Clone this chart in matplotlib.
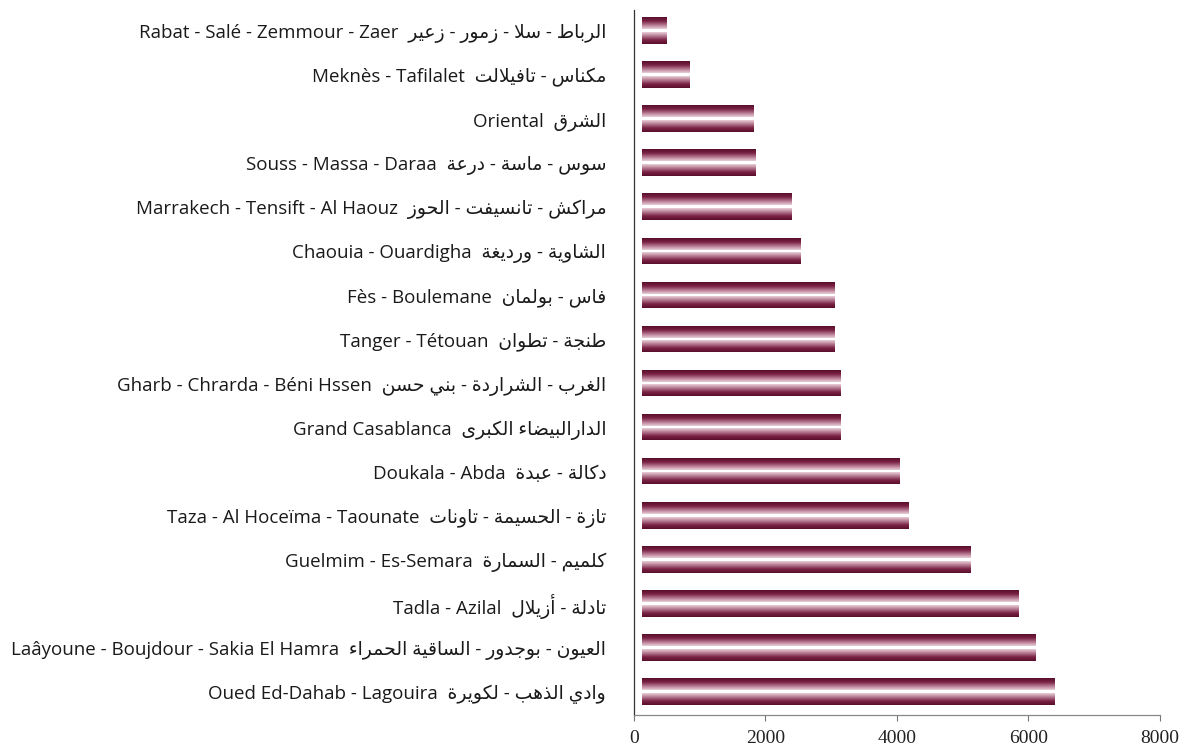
import numpy as np
import matplotlib
matplotlib.use("Agg")
import matplotlib.pyplot as plt
from matplotlib.colors import LinearSegmentedColormap

# regions (top to bottom), latin + arabic names
regions_lat = [
    "Rabat - Salé - Zemmour - Zaer",
    "Meknès - Tafilalet",
    "Oriental",
    "Souss - Massa - Daraa",
    "Marrakech - Tensift - Al Haouz",
    "Chaouia - Ouardigha",
    "Fès - Boulemane",
    "Tanger - Tétouan",
    "Gharb - Chrarda - Béni Hssen",
    "Grand Casablanca",
    "Doukala - Abda",
    "Taza - Al Hoceïma - Taounate",
    "Guelmim - Es-Semara",
    "Tadla - Azilal",
    "Laâyoune - Boujdour - Sakia El Hamra",
    "Oued Ed-Dahab - Lagouira",
]
regions_ar = [
    "الرباط - سلا - زمور - زعير",
    "مكناس - تافيلالت",
    "الشرق",
    "سوس - ماسة - درعة",
    "مراكش - تانسيفت - الحوز",
    "الشاوية - ورديغة",
    "فاس - بولمان",
    "طنجة - تطوان",
    "الغرب - الشراردة - بني حسن",
    "الدارالبيضاء الكبرى",
    "دكالة - عبدة",
    "تازة - الحسيمة - تاونات",
    "كلميم - السمارة",
    "تادلة - أزيلال",
    "العيون - بوجدور - الساقية الحمراء",
    "وادي الذهب - لكويرة",
]
series_a = [510, 850, 1820, 1860, 2410, 2540, 3060, 3060, 3150, 3150, 4050, 4180, 5120, 5850, 6120, 6410]
series_b = [510, 850, 1820, 1860, 2410, 2540, 3060, 3060, 3150, 3150, 4050, 4180, 5120, 5850, 6120, 6410]
xticks = [0, 2000, 4000, 6000, 8000]

# minimal arabic shaping (matplotlib has no shaping / bidi)
FORMS = {  # isolated, final, initial, medial
    "ء": (0xFE80, None, None, None),
    "أ": (0xFE83, 0xFE84, None, None),
    "ا": (0xFE8D, 0xFE8E, None, None),
    "ب": (0xFE8F, 0xFE90, 0xFE91, 0xFE92),
    "ة": (0xFE93, 0xFE94, None, None),
    "ت": (0xFE95, 0xFE96, 0xFE97, 0xFE98),
    "ج": (0xFE9D, 0xFE9E, 0xFE9F, 0xFEA0),
    "ح": (0xFEA1, 0xFEA2, 0xFEA3, 0xFEA4),
    "د": (0xFEA9, 0xFEAA, None, None),
    "ذ": (0xFEAB, 0xFEAC, None, None),
    "ر": (0xFEAD, 0xFEAE, None, None),
    "ز": (0xFEAF, 0xFEB0, None, None),
    "س": (0xFEB1, 0xFEB2, 0xFEB3, 0xFEB4),
    "ش": (0xFEB5, 0xFEB6, 0xFEB7, 0xFEB8),
    "ض": (0xFEBD, 0xFEBE, 0xFEBF, 0xFEC0),
    "ط": (0xFEC1, 0xFEC2, 0xFEC3, 0xFEC4),
    "ع": (0xFEC9, 0xFECA, 0xFECB, 0xFECC),
    "غ": (0xFECD, 0xFECE, 0xFECF, 0xFED0),
    "ف": (0xFED1, 0xFED2, 0xFED3, 0xFED4),
    "ق": (0xFED5, 0xFED6, 0xFED7, 0xFED8),
    "ك": (0xFED9, 0xFEDA, 0xFEDB, 0xFEDC),
    "ل": (0xFEDD, 0xFEDE, 0xFEDF, 0xFEE0),
    "م": (0xFEE1, 0xFEE2, 0xFEE3, 0xFEE4),
    "ن": (0xFEE5, 0xFEE6, 0xFEE7, 0xFEE8),
    "ه": (0xFEE9, 0xFEEA, 0xFEEB, 0xFEEC),
    "و": (0xFEED, 0xFEEE, None, None),
    "ى": (0xFEEF, 0xFEF0, None, None),
    "ي": (0xFEF1, 0xFEF2, 0xFEF3, 0xFEF4),
}
LAM_ALEF = {"ا": (0xFEFB, 0xFEFC), "أ": (0xFEF7, 0xFEF8)}


def shape(text):
    chars = list(text)
    # merge lam + alef into one token
    tokens = []
    i = 0
    while i < len(chars):
        if chars[i] == "ل" and i + 1 < len(chars) and chars[i + 1] in LAM_ALEF:
            tokens.append("ل" + chars[i + 1])
            i += 2
        else:
            tokens.append(chars[i])
            i += 1

    def joins_next(t):  # can connect to following letter
        if len(t) == 2:
            return False
        f = FORMS.get(t)
        return f is not None and f[2] is not None

    def joins_prev(t):
        if len(t) == 2:
            return True
        f = FORMS.get(t)
        return f is not None and f[1] is not None

    out = []
    for k, t in enumerate(tokens):
        prev_ok = k > 0 and joins_next(tokens[k - 1]) and joins_prev(t)
        next_ok = k + 1 < len(tokens) and joins_next(t) and joins_prev(tokens[k + 1])
        if len(t) == 2:
            out.append(chr(LAM_ALEF[t[1]][1 if prev_ok else 0]))
        elif t in FORMS:
            iso, fin, ini, med = FORMS[t]
            if prev_ok and next_ok:
                out.append(chr(med))
            elif prev_ok:
                out.append(chr(fin))
            elif next_ok:
                out.append(chr(ini))
            else:
                out.append(chr(iso))
        else:
            out.append(t)
    return "".join(reversed(out))


labels = [lat + "  " + shape(ar) for lat, ar in zip(regions_lat, regions_ar)]

cmap = LinearSegmentedColormap.from_list("wine", ["#5a0e2b", "#7a2245", "#b5788f", "#e9cfd9"])
grad = np.linspace(0, 1, 64).reshape(-1, 1)

fig = plt.figure(figsize=(11.95, 7.53), dpi=100)
ax = fig.add_axes([0.5305, 0.0505, 0.4402, 0.9365])

y = np.arange(len(labels))
h = 0.25
off = 0.165
x0 = 130  # bars start just right of the axis line
for yi, va, vb in zip(y, series_a, series_b):
    # upper bar: dark on top, light at bottom
    ax.imshow(grad, extent=[x0, va, yi - off + h / 2, yi - off - h / 2],
              aspect="auto", cmap=cmap, vmin=0, vmax=1, interpolation="bilinear")
    # lower bar: light on top, dark at bottom
    ax.imshow(grad[::-1], extent=[x0, vb, yi + off + h / 2, yi + off - h / 2],
              aspect="auto", cmap=cmap, vmin=0, vmax=1, interpolation="bilinear")

ax.set_xlim(0, 8000)
ax.set_ylim(15.52, -0.48)
ax.set_xticks(xticks)
ax.set_xticklabels([str(t) for t in xticks], family="Liberation Serif", fontsize=14, color="#222222")
ax.set_yticks(y)
ax.set_yticklabels(labels, family=["Open Sans", "DejaVu Sans"], fontsize=13.5, color="#1a1a1a")
ax.tick_params(axis="y", length=0, pad=20)
ax.tick_params(axis="x", length=4, direction="out", color="#777777", pad=7)

for s in ["top", "right"]:
    ax.spines[s].set_visible(False)
ax.spines["left"].set_color("#333333")
ax.spines["left"].set_linewidth(0.9)
ax.spines["bottom"].set_color("#888888")
ax.spines["bottom"].set_linewidth(0.9)

fig.savefig("out.png", dpi=100)
